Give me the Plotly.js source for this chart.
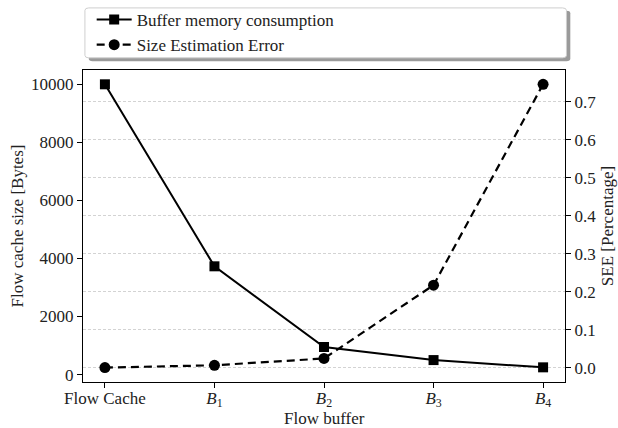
<!DOCTYPE html>
<html>
<head>
<meta charset="utf-8">
<script src="https://cdn.plot.ly/plotly-3.0.1.min.js"></script>
<style>html,body{margin:0;padding:0;background:#fff;}#chart{width:618px;height:428px;}</style>
</head>
<body>
<div id="chart"></div>
<script>
const categories = ["Flow Cache", "<i>B</i><sub>1</sub>", "<i>B</i><sub>2</sub>", "<i>B</i><sub>3</sub>", "<i>B</i><sub>4</sub>"];
const bufferMemory = [10000, 3730, 950, 500, 250];
const sizeEstimationError = [0.0, 0.006, 0.024, 0.217, 0.746];
const leftTicks = [0, 2000, 4000, 6000, 8000, 10000];
const leftTickLabels = ["0", "2000", "4000", "6000", "8000", "10000"];
const rightTicks = [0.0, 0.1, 0.2, 0.3, 0.4, 0.5, 0.6, 0.7];

const xIdx = categories.map((c, i) => i);
const FONT = "Liberation Serif, Times New Roman, serif";
const TXT = "#222";

const traces = [
  {
    x: xIdx, y: bufferMemory, name: "Buffer memory consumption",
    type: "scatter", mode: "lines+markers", yaxis: "y",
    line: {color: "#000", width: 2},
    marker: {symbol: "square", size: 10, color: "#000"}
  },
  {
    x: xIdx, y: sizeEstimationError, name: "Size Estimation Error",
    type: "scatter", mode: "lines+markers", yaxis: "y2",
    line: {color: "#000", width: 2.2, dash: "8px,5px"},
    marker: {symbol: "circle", size: 11, color: "#000"}
  }
];

function roundedRect(x0, y0, x1, y1, r) {
  return `M${x0 + r},${y0} L${x1 - r},${y0} Q${x1},${y0} ${x1},${y0 + r} L${x1},${y1 - r} Q${x1},${y1} ${x1 - r},${y1} L${x0 + r},${y1} Q${x0},${y1} ${x0},${y1 - r} L${x0},${y0 + r} Q${x0},${y0} ${x0 + r},${y0} Z`;
}

const layout = {
  width: 618, height: 428,
  margin: {l: 83, r: 53, t: 70, b: 46, autoexpand: false},
  paper_bgcolor: "#fff", plot_bgcolor: "#fff",
  font: {family: FONT, size: 17, color: TXT},
  showlegend: true,
  legend: {
    x: 0.018, xanchor: "left", y: 1.218, yanchor: "top",
    bgcolor: "rgba(0,0,0,0)", borderwidth: 0, itemwidth: 35,
    font: {family: FONT, size: 17, color: TXT},
    tracegroupgap: 0
  },
  xaxis: {
    range: [-0.2, 4.2], tickmode: "array", tickvals: xIdx, ticktext: categories,
    showgrid: false, zeroline: false, showline: true, mirror: true,
    linecolor: "#000", linewidth: 1.2, ticks: "outside", ticklen: 5, tickcolor: "#000",
    ticklabelstandoff: -5, automargin: false,
    tickfont: {family: FONT, size: 17, color: TXT}
  },
  yaxis: {
    range: [-255, 10493], tickmode: "array", tickvals: leftTicks, ticktext: leftTickLabels,
    showgrid: false, zeroline: false, showline: true,
    linecolor: "#000", linewidth: 1.2, ticks: "outside", ticklen: 5, tickcolor: "#000",
    automargin: false,
    tickfont: {family: FONT, size: 17, color: TXT},
    title: {text: "Flow cache size [Bytes]", font: {family: FONT, size: 17, color: TXT}, standoff: 3}
  },
  yaxis2: {
    overlaying: "y", side: "right",
    range: [-0.038, 0.7836], tickmode: "array", tickvals: rightTicks, tickformat: ".1f",
    showgrid: true, gridcolor: "#c8c8c8", griddash: "3px,2px", gridwidth: 0.8,
    zeroline: false, showline: true, automargin: false,
    linecolor: "#000", linewidth: 1.2, ticks: "outside", ticklen: 5, tickcolor: "#000",
    tickfont: {family: FONT, size: 17, color: TXT},
    title: {text: "SEE [Percentage]", font: {family: FONT, size: 17, color: TXT}, standoff: 5}
  },
  annotations: [
    {text: "Flow buffer", xref: "paper", yref: "paper", x: 0.5, y: -0.1165,
     xanchor: "center", yanchor: "middle", showarrow: false,
     font: {family: FONT, size: 17, color: TXT}}
  ],
  shapes: [
    {type: "path", xref: "paper", yref: "paper", path: roundedRect(0.012, 1.028, 1.011, 1.19, 0.008),
     fillcolor: "#9a9a9a", line: {width: 0}, layer: "below"},
    {type: "path", xref: "paper", yref: "paper", path: roundedRect(0.004, 1.039, 1.003, 1.199, 0.008),
     fillcolor: "#fff", line: {color: "#cfcfcf", width: 1}, layer: "below"}
  ]
};

Plotly.newPlot("chart", traces, layout, {staticPlot: true, displayModeBar: false});
</script>
</body>
</html>
